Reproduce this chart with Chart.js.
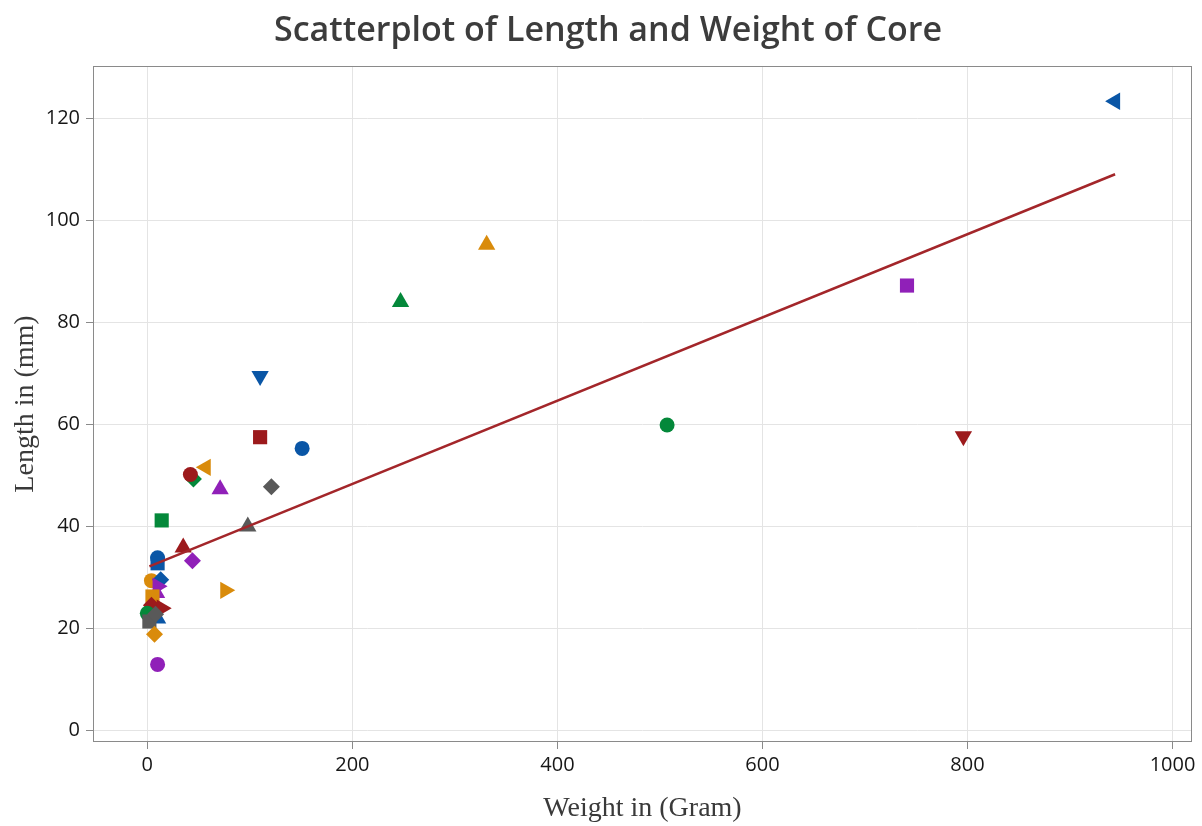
<!DOCTYPE html>
<html>
<head>
<meta charset="utf-8">
<script src="https://cdn.jsdelivr.net/npm/chart.js@4"></script>
<style>
  html, body { margin: 0; padding: 0; background: #ffffff; }
  #wrap { width: 1202px; height: 826px; position: relative; }
</style>
</head>
<body>
<div id="wrap"><canvas id="c"></canvas></div>
<script>
// ---- data ----
const weights = [944, 331, 247, 741, 110, 110, 151, 507, 796, 45, 42, 57, 71, 121, 14, 98, 35, 44,
                 10, 10, 76, 4, 13, 10, 9, 5, 4, 14, 0, 10, 2, 8, 7, 10];
const lengths = [123.3, 95.2, 84.0, 87.2, 69.5, 57.5, 55.3, 59.9, 57.7, 49.3, 50.2, 51.6, 47.3, 47.8, 41.2, 40.0, 35.9, 33.3,
                 33.9, 32.8, 27.5, 29.4, 29.6, 28.3, 27.0, 26.3, 24.6, 24.0, 23.0, 22.0, 21.4, 22.8, 18.9, 13.0];
// marker colour key and symbol key per point (style lookup, not data)
const markerColor = ['blue','orange','green','purple','blue','red','blue','green','red','green','red','orange','purple','gray','green','gray','red','purple',
                     'blue','blue','orange','orange','blue','purple','purple','orange','red','red','green','blue','gray','gray','orange','purple'];
const markerShape = ['left','up','up','square','down','square','circle','circle','down','diamond','circle','left','up','diamond','square','up','up','diamond',
                     'circle','square','right','circle','diamond','right','up','square','diamond','right','circle','up','square','diamond','diamond','circle'];
// fitted regression line end points
const fitX = [2, 944];
const fitY = [32.2, 109.0];
const xTicks = [0, 200, 400, 600, 800, 1000];
const yTicks = [0, 20, 40, 60, 80, 100, 120];

const palette = { blue:'#0a56a6', red:'#9c1a1c', green:'#04883a', purple:'#9020b8', orange:'#d98b0b', gray:'#595959' };
const shapes = {
  circle:  { style:'circle',   rot:0,   r:7.5 },
  square:  { style:'rect',     rot:0,   r:10 },
  diamond: { style:'rectRot',  rot:0,   r:8.5 },
  up:      { style:'triangle', rot:0,   r:10 },
  down:    { style:'triangle', rot:180, r:10 },
  left:    { style:'triangle', rot:270, r:10 },
  right:   { style:'triangle', rot:90,  r:10 }
};

const datasets = [];
datasets.push({
  type: 'line',
  data: fitX.map((x, i) => ({ x: x, y: fitY[i] })),
  borderColor: '#a3262a',
  borderWidth: 2.5,
  pointRadius: 0,
  fill: false,
  order: 1
});
weights.forEach((w, i) => {
  const s = shapes[markerShape[i]];
  datasets.push({
    type: 'scatter',
    data: [{ x: w, y: lengths[i] }],
    pointStyle: s.style,
    rotation: s.rot,
    pointRadius: s.r,
    pointHoverRadius: s.r,
    backgroundColor: palette[markerColor[i]],
    borderColor: palette[markerColor[i]],
    borderWidth: 0,
    order: 2 + (weights.length - i)
  });
});

const framePlugin = {
  id: 'frame',
  afterDraw(chart) {
    const a = chart.chartArea, ctx = chart.ctx;
    ctx.save();
    ctx.strokeStyle = '#8a8a8a';
    ctx.lineWidth = 1;
    ctx.strokeRect(a.left + 0.5, a.top + 0.5, a.right - a.left - 1, a.bottom - a.top - 1);
    ctx.restore();
  }
};

new Chart(document.getElementById('c'), {
  data: { datasets },
  plugins: [framePlugin],
  options: {
    responsive: true,
    maintainAspectRatio: false,
    devicePixelRatio: 1,
    animation: false,
    layout: { padding: { left: 24, right: 10, top: 0, bottom: 0 } },
    plugins: {
      legend: { display: false },
      tooltip: { enabled: false },
      title: {
        display: true,
        text: 'Scatterplot of Length and Weight of Core',
        color: '#3c3c3c',
        font: { family: 'Open Sans', size: 34, weight: '600', lineHeight: 1.2 },
        padding: { top: 11, bottom: 14.2 }
      }
    },
    scales: {
      x: {
        type: 'linear',
        min: -53, max: 1019,
        afterFit(s) { s.height = 84; },
        afterBuildTicks(s) { s.ticks = xTicks.map(v => ({ value: v })); },
        ticks: { color: '#161616', font: { family: 'Open Sans', size: 20 }, padding: 4, maxRotation: 0,
                 callback: v => String(v) },
        grid: { color: '#e4e4e4', lineWidth: 1, tickLength: 7, tickColor: '#8a8a8a', drawTicks: true },
        border: { display: false },
        title: {
          display: true,
          text: 'Weight in (Gram)',
          color: '#3a3a3a',
          font: { family: 'Liberation Serif', size: 28, lineHeight: 1.2 },
          padding: { top: 0, bottom: 1 }
        }
      },
      y: {
        type: 'linear',
        min: -2.2, max: 130.2,
        afterFit(s) { s.width = 69; },
        afterBuildTicks(s) { s.ticks = yTicks.map(v => ({ value: v })); },
        ticks: { color: '#161616', font: { family: 'Open Sans', size: 20 }, padding: 6,
                 callback: v => String(v) },
        grid: { color: '#e4e4e4', lineWidth: 1, tickLength: 7, tickColor: '#8a8a8a', drawTicks: true },
        border: { display: false },
        title: {
          display: true,
          text: 'Length in (mm)',
          color: '#3a3a3a',
          font: { family: 'Liberation Serif', size: 28, lineHeight: 1.2 },
          padding: { top: -14.8, bottom: 0 }
        }
      }
    }
  }
});
</script>
</body>
</html>
